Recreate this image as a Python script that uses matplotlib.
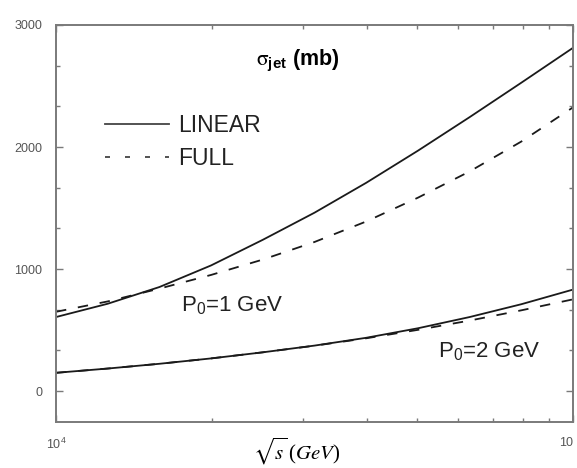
"""
Jet cross section vs sqrt(s): LINEAR vs FULL, for P0 = 1 and 2 GeV.
"""

import matplotlib

matplotlib.use("Agg")
import matplotlib.pyplot as plt
from matplotlib.lines import Line2D
from matplotlib.ticker import LogLocator, MultipleLocator, NullFormatter

# sqrt(s) grid in GeV
sqrt_s = [10000, 12590, 15850, 19950, 25120, 31620, 39810, 50120, 63100, 79430, 100000]

# sigma_jet in mb
p0_1_linear = [607, 716, 853, 1030, 1240, 1462, 1707, 1970, 2245, 2527, 2813]
p0_1_full = [650, 735, 840, 952, 1078, 1222, 1390, 1585, 1800, 2045, 2325]
p0_2_linear = [150, 185, 224, 268, 318, 373, 437, 515, 607, 712, 832]
p0_2_full = [150, 185, 224, 268, 318, 372, 433, 502, 578, 662, 752]

legend_labels = ["LINEAR", "FULL"]
curve_labels = ["P$_0$=1 GeV", "P$_0$=2 GeV"]
x_tick_values = [1.0e4, 1.0e5]
x_tick_labels = ["10$^4$", "10"]

LINE_COLOR = "#1a1a1a"
AXIS_COLOR = "#7a7a7a"
TICK_LABEL_COLOR = "#555555"
CURVE_DASH = (0, (7.5, 8.5))
LEGEND_DASH = (0, (3.6, 10.8))

plt.rcParams.update({
    "font.family": ["Liberation Sans", "DejaVu Sans"],
    "mathtext.default": "regular",
    "lines.scale_dashes": False,
})

fig = plt.figure(figsize=(5.77, 4.68), dpi=100)
ax = fig.add_axes([0.0971, 0.0983, 0.896, 0.8483])

ax.plot(sqrt_s, p0_1_linear, color=LINE_COLOR, lw=1.3, ls="-")
ax.plot(sqrt_s, p0_1_full, color=LINE_COLOR, lw=1.3, ls=CURVE_DASH)
ax.plot(sqrt_s, p0_2_linear, color=LINE_COLOR, lw=1.3, ls="-")
ax.plot(sqrt_s, p0_2_full, color=LINE_COLOR, lw=1.3, ls=CURVE_DASH)

ax.set_xscale("log")
ax.set_xlim(1.0e4, 1.0e5)
ax.set_ylim(-253, 3000)

ax.set_xticks(x_tick_values)
ax.set_xticklabels(x_tick_labels)
ax.get_xticklabels()[-1].set_horizontalalignment("right")
ax.xaxis.set_minor_locator(LogLocator(base=10, subs=range(2, 10)))
ax.xaxis.set_minor_formatter(NullFormatter())
ax.yaxis.set_major_locator(MultipleLocator(1000))
ax.yaxis.set_minor_locator(MultipleLocator(1000 / 3))

ax.tick_params(which="both", direction="in", top=True, right=True,
               color=AXIS_COLOR, width=1.0)
ax.tick_params(which="major", length=5)
ax.tick_params(which="minor", length=3)
ax.tick_params(axis="x", which="major", pad=11, labelsize=9,
               labelcolor=TICK_LABEL_COLOR)
ax.tick_params(axis="y", which="major", pad=10, labelsize=9,
               labelcolor=TICK_LABEL_COLOR)

for spine in ax.spines.values():
    spine.set_color(AXIS_COLOR)
    spine.set_linewidth(1.4)

ax.set_xlabel(r"$\sqrt{\mathit{s}}\,(\mathit{GeV})$", fontsize=15,
              fontfamily="Liberation Serif", math_fontfamily="stix")
ax.xaxis.set_label_coords(0.466, -0.036)

ax.text(2.437e4, 2665, r"$\mathrm{\sigma}_{\mathregular{jet}}$ (mb)",
        fontsize=15.5, fontweight="bold", math_fontfamily="stix",
        va="baseline", ha="left")

ax.text(1.742e4, 654, curve_labels[0], fontsize=16, va="baseline", ha="left",
        color="#222222")
ax.text(5.48e4, 280, curve_labels[1], fontsize=16, va="baseline", ha="left",
        color="#222222")

handles = [
    Line2D([], [], color="#444444", lw=1.3, ls="-"),
    Line2D([], [], color="#444444", lw=1.3, ls=LEGEND_DASH),
]
leg = ax.legend(handles, legend_labels, loc="center left",
                bbox_to_anchor=(0.0948, 0.705), frameon=False, fontsize=16.5,
                handlelength=2.8, handletextpad=0.4, labelspacing=0.45,
                borderpad=0, borderaxespad=0)
for text in leg.get_texts():
    text.set_color("#222222")

fig.savefig("out.png", dpi=100)
